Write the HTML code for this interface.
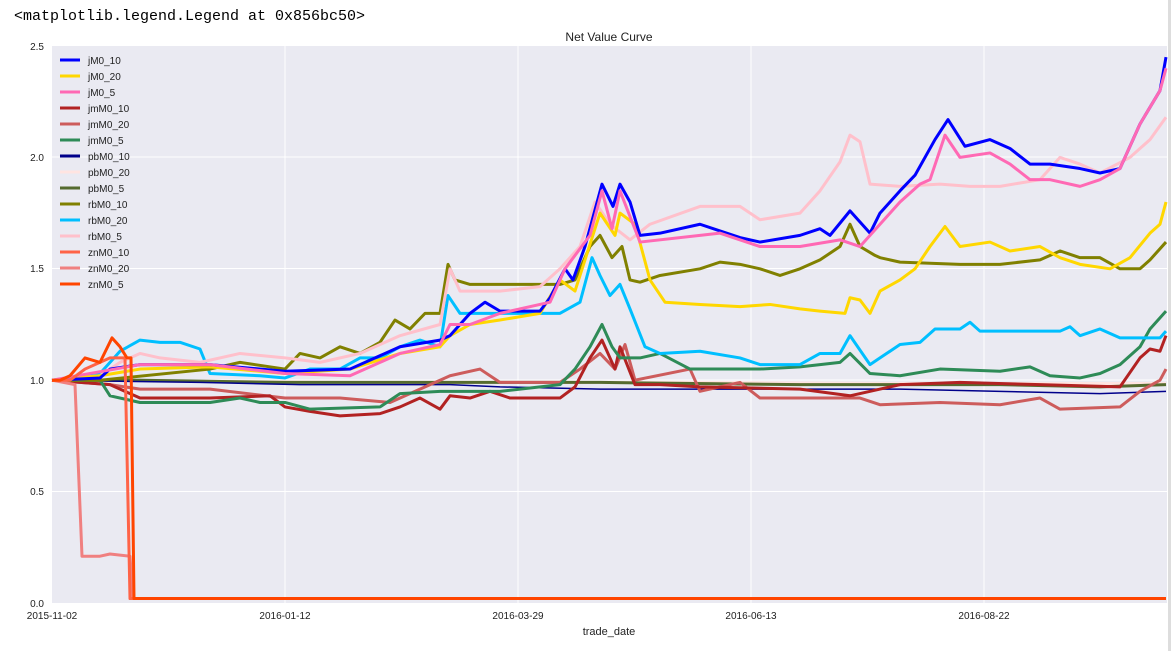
<!DOCTYPE html>
<html><head><meta charset="utf-8"><style>
body{margin:0;background:#fff;width:1171px;height:651px;overflow:hidden;font-family:"Liberation Sans","DejaVu Sans",sans-serif}
</style></head><body>
<svg width="1171" height="651" xmlns="http://www.w3.org/2000/svg" font-family="Liberation Sans, DejaVu Sans, sans-serif">
<text x="14" y="20" font-family="Liberation Mono, DejaVu Sans Mono, monospace" font-size="15" fill="#000">&lt;matplotlib.legend.Legend at 0x856bc50&gt;</text>
<rect x="52" y="46" width="1115" height="557" fill="#eaeaf2"/>
<g stroke="#fff" stroke-width="1">
<line x1="285" y1="46" x2="285" y2="603"/><line x1="518" y1="46" x2="518" y2="603"/><line x1="751" y1="46" x2="751" y2="603"/><line x1="984" y1="46" x2="984" y2="603"/>
<line x1="52" y1="157" x2="1167" y2="157"/><line x1="52" y1="268.5" x2="1167" y2="268.5"/><line x1="52" y1="380" x2="1167" y2="380"/><line x1="52" y1="491.5" x2="1167" y2="491.5"/>
</g>
<text x="609" y="41" font-size="12" text-anchor="middle" fill="#222">Net Value Curve</text>
<g font-size="10" fill="#222" text-anchor="end">
<text x="44" y="50">2.5</text><text x="44" y="161">2.0</text><text x="44" y="272">1.5</text><text x="44" y="384">1.0</text><text x="44" y="495">0.5</text><text x="44" y="607">0.0</text>
</g>
<g font-size="10" fill="#222" text-anchor="middle">
<text x="52" y="619">2015-11-02</text><text x="285" y="619">2016-01-12</text><text x="518" y="619">2016-03-29</text><text x="751" y="619">2016-06-13</text><text x="984" y="619">2016-08-22</text>
</g>
<text x="609" y="635" font-size="11" text-anchor="middle" fill="#222">trade_date</text>
<g fill="none" stroke-width="3" stroke-linejoin="round" transform="translate(0,603) scale(1,-222.8)">
<polyline vector-effect="non-scaling-stroke" stroke="#ffe4e1" points="52,1 200,0.995 400,0.99 700,0.99 900,0.985 1166,0.985"/>
<polyline vector-effect="non-scaling-stroke" stroke="#556b2f" points="52,1 140,1 285,0.99 400,0.99 600,0.99 800,0.98 900,0.98 1000,0.98 1100,0.97 1166,0.98"/>
<polyline vector-effect="non-scaling-stroke" stroke="#00008b" stroke-width="1.5" points="52,1 200,0.99 300,0.98 450,0.98 500,0.97 600,0.96 800,0.96 900,0.96 1000,0.95 1100,0.94 1166,0.95"/>
<polyline vector-effect="non-scaling-stroke" stroke="#cd5c5c" points="52,1 110,0.98 140,0.96 210,0.96 285,0.92 340,0.92 390,0.9 440,1 450,1.02 480,1.05 500,0.99 560,0.99 580,1.05 600,1.12 615,1.05 625,1.16 635,1 690,1.05 700,0.95 740,0.99 760,0.92 820,0.92 860,0.92 880,0.89 940,0.9 1000,0.89 1040,0.92 1060,0.87 1120,0.88 1140,0.95 1160,1 1166,1.05"/>
<polyline vector-effect="non-scaling-stroke" stroke="#b22222" points="52,1 110,0.98 140,0.92 210,0.92 270,0.93 285,0.88 310,0.86 340,0.84 380,0.85 400,0.88 420,0.92 440,0.87 450,0.93 470,0.92 490,0.95 510,0.92 540,0.92 560,0.92 575,0.97 590,1.1 602,1.18 615,1.05 620,1.15 635,0.98 660,0.98 700,0.97 800,0.96 850,0.93 900,0.98 960,0.99 1040,0.98 1120,0.97 1140,1.1 1150,1.14 1160,1.13 1166,1.2"/>
<polyline vector-effect="non-scaling-stroke" stroke="#2e8b57" points="52,1 100,1 110,0.93 140,0.9 210,0.9 240,0.92 260,0.9 285,0.9 310,0.87 380,0.88 400,0.94 440,0.95 500,0.95 560,0.98 575,1.05 590,1.15 602,1.25 612,1.15 620,1.1 640,1.1 660,1.12 690,1.05 760,1.05 800,1.06 840,1.08 850,1.12 870,1.03 900,1.02 940,1.05 1000,1.04 1030,1.06 1050,1.02 1080,1.01 1100,1.03 1120,1.07 1140,1.15 1150,1.23 1166,1.31"/>
<polyline vector-effect="non-scaling-stroke" stroke="#00bfff" points="52,1 100,1.03 120,1.13 140,1.18 160,1.17 180,1.17 200,1.14 210,1.03 260,1.02 285,1.01 310,1.05 340,1.05 360,1.1 380,1.1 400,1.15 420,1.18 440,1.15 448,1.38 460,1.3 500,1.3 540,1.3 560,1.3 580,1.35 592,1.55 600,1.47 610,1.38 620,1.43 630,1.32 645,1.15 660,1.12 700,1.13 740,1.1 760,1.07 800,1.07 820,1.12 840,1.12 850,1.2 870,1.07 880,1.1 900,1.16 920,1.17 935,1.23 960,1.23 970,1.26 980,1.22 1060,1.22 1070,1.24 1080,1.2 1100,1.23 1120,1.19 1160,1.19 1166,1.22"/>
<polyline vector-effect="non-scaling-stroke" stroke="#808000" points="52,1 100,1 210,1.05 240,1.08 285,1.05 300,1.12 320,1.1 340,1.15 360,1.12 380,1.17 395,1.27 410,1.23 425,1.3 440,1.3 448,1.52 455,1.45 470,1.43 560,1.43 575,1.45 590,1.6 600,1.65 612,1.55 622,1.6 630,1.45 640,1.44 660,1.47 700,1.5 720,1.53 740,1.52 760,1.5 780,1.47 800,1.5 820,1.54 840,1.6 850,1.7 860,1.6 875,1.56 880,1.55 900,1.53 960,1.52 1000,1.52 1040,1.54 1060,1.58 1080,1.55 1100,1.55 1120,1.5 1140,1.5 1150,1.54 1166,1.62"/>
<polyline vector-effect="non-scaling-stroke" stroke="#ffc0cb" points="52,1 100,1.02 120,1.08 140,1.12 160,1.1 200,1.08 240,1.12 285,1.1 320,1.08 360,1.12 400,1.2 440,1.25 450,1.5 460,1.4 500,1.4 540,1.42 560,1.5 580,1.6 595,1.8 610,1.7 630,1.63 650,1.7 700,1.78 740,1.78 760,1.72 800,1.75 820,1.85 840,1.98 850,2.1 860,2.07 870,1.88 900,1.87 940,1.88 970,1.87 1000,1.87 1040,1.9 1060,2 1080,1.97 1100,1.93 1130,2 1150,2.08 1166,2.18"/>
<polyline vector-effect="non-scaling-stroke" stroke="#ffd700" points="52,1 100,1.02 140,1.05 210,1.06 285,1.03 350,1.05 400,1.12 440,1.15 450,1.2 470,1.25 500,1.27 540,1.3 560,1.45 575,1.4 600,1.75 615,1.65 620,1.75 635,1.7 650,1.45 665,1.35 700,1.34 740,1.33 770,1.34 800,1.32 820,1.31 845,1.3 850,1.37 860,1.36 870,1.3 880,1.4 900,1.45 915,1.5 930,1.6 945,1.69 960,1.6 990,1.62 1010,1.58 1040,1.6 1060,1.55 1080,1.52 1110,1.5 1130,1.55 1150,1.66 1160,1.7 1166,1.8"/>
<polyline vector-effect="non-scaling-stroke" stroke="#0000ff" points="52,1 100,1.01 110,1.05 140,1.07 210,1.07 285,1.04 350,1.05 400,1.15 440,1.18 450,1.2 470,1.3 485,1.35 500,1.31 540,1.31 550,1.37 565,1.5 573,1.45 585,1.6 602,1.88 613,1.78 620,1.88 630,1.8 640,1.65 660,1.66 700,1.7 720,1.67 740,1.64 760,1.62 800,1.65 820,1.68 830,1.65 850,1.76 870,1.66 880,1.75 900,1.85 915,1.92 935,2.08 948,2.17 965,2.05 990,2.08 1010,2.04 1030,1.97 1050,1.97 1080,1.95 1100,1.93 1120,1.95 1140,2.15 1160,2.3 1166,2.45"/>
<polyline vector-effect="non-scaling-stroke" stroke="#ff69b4" points="52,1 140,1.07 210,1.07 285,1.03 350,1.02 400,1.12 440,1.16 450,1.25 470,1.25 500,1.3 550,1.35 565,1.5 590,1.65 602,1.85 612,1.68 620,1.85 640,1.62 700,1.65 720,1.66 760,1.6 800,1.6 840,1.63 860,1.6 880,1.7 900,1.8 920,1.88 930,1.9 945,2.1 960,2 990,2.02 1010,1.97 1030,1.9 1050,1.9 1080,1.87 1100,1.9 1120,1.95 1140,2.15 1160,2.3 1166,2.4"/>
<polyline vector-effect="non-scaling-stroke" stroke="#f08080" points="52,1 75,0.98 82,0.21 100,0.21 110,0.22 130,0.21 133,0.02 1166,0.02"/>
<polyline vector-effect="non-scaling-stroke" stroke="#ff6347" points="52,1 70,1 85,1.05 110,1.1 125,1.1 130,0.02 1166,0.02"/>
<polyline vector-effect="non-scaling-stroke" stroke="#ff4500" points="52,1 60,1 70,1.02 85,1.1 100,1.08 112,1.19 120,1.15 127,1.1 131,1.1 134,0.02 1166,0.02"/>
</g>
<g font-size="10" fill="#222" stroke-width="3">
<line x1="60" y1="60" x2="80" y2="60" stroke="#0000ff"/><text x="88" y="64">jM0_10</text>
<line x1="60" y1="76" x2="80" y2="76" stroke="#ffd700"/><text x="88" y="80">jM0_20</text>
<line x1="60" y1="92" x2="80" y2="92" stroke="#ff69b4"/><text x="88" y="96">jM0_5</text>
<line x1="60" y1="108" x2="80" y2="108" stroke="#b22222"/><text x="88" y="112">jmM0_10</text>
<line x1="60" y1="124" x2="80" y2="124" stroke="#cd5c5c"/><text x="88" y="128">jmM0_20</text>
<line x1="60" y1="140" x2="80" y2="140" stroke="#2e8b57"/><text x="88" y="144">jmM0_5</text>
<line x1="60" y1="156" x2="80" y2="156" stroke="#00008b"/><text x="88" y="160">pbM0_10</text>
<line x1="60" y1="172" x2="80" y2="172" stroke="#ffe4e1"/><text x="88" y="176">pbM0_20</text>
<line x1="60" y1="188" x2="80" y2="188" stroke="#556b2f"/><text x="88" y="192">pbM0_5</text>
<line x1="60" y1="204" x2="80" y2="204" stroke="#808000"/><text x="88" y="208">rbM0_10</text>
<line x1="60" y1="220" x2="80" y2="220" stroke="#00bfff"/><text x="88" y="224">rbM0_20</text>
<line x1="60" y1="236" x2="80" y2="236" stroke="#ffc0cb"/><text x="88" y="240">rbM0_5</text>
<line x1="60" y1="252" x2="80" y2="252" stroke="#ff6347"/><text x="88" y="256">znM0_10</text>
<line x1="60" y1="268" x2="80" y2="268" stroke="#f08080"/><text x="88" y="272">znM0_20</text>
<line x1="60" y1="284" x2="80" y2="284" stroke="#ff4500"/><text x="88" y="288">znM0_5</text>
</g>
<rect x="1168" y="0" width="3" height="651" fill="#ddd"/>
</svg>
</body></html>
